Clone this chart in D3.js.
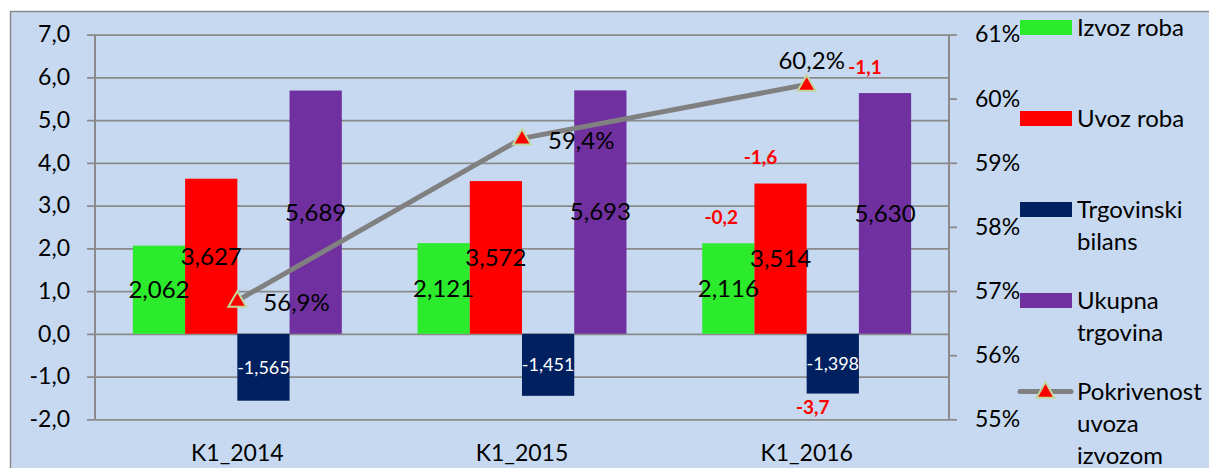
<!DOCTYPE html>
<html><head><meta charset="utf-8">
<script src="https://cdn.jsdelivr.net/npm/d3@7"></script>
<style>html,body{margin:0;padding:0;background:#fff;overflow:hidden}</style>
</head><body><svg id="c" width="1209" height="468"></svg>
<script>
// ---- data ----
const categories = ["K1_2014", "K1_2015", "K1_2016"];
const izvozRoba = [2.062, 2.121, 2.116];
const uvozRoba = [3.627, 3.572, 3.514];
const trgovinskiBilans = [-1.565, -1.451, -1.398];
const ukupnaTrgovina = [5.689, 5.693, 5.630];
const pokrivenost = [0.56851, 0.5938, 0.6022];
const promjene2016 = [-0.2, -1.6, -3.7, -1.1];
const leftTicks = [-2, -1, 0, 1, 2, 3, 4, 5, 6, 7];
const rightTicks = [0.55, 0.56, 0.57, 0.58, 0.59, 0.60, 0.61];
const seriesNames = ["Izvoz roba", "Uvoz roba", "Trgovinski bilans", "Ukupna trgovina"];
const lineName = "Pokrivenost uvoza izvozom";

// ---- styles ----
const colors = ["#2ceb2c", "#ff0000", "#002060", "#7030a0"];
const FONT = "Lato, 'Open Sans', sans-serif";
const gridColor = "#8a8a8a";
const FS = 24, AXFS = 23;

const loc = d3.formatLocale({decimal: ",", thousands: ".", grouping: [3], currency: ["", ""], minus: "-"});
const f1 = loc.format(".1f"), f3 = loc.format(".3f"), fp0 = loc.format(".0%"), fp1 = loc.format(".1%");

const svg = d3.select("#c");
svg.append("rect").attr("x", 10.5).attr("y", 11.5).attr("width", 1300).attr("height", 600)
  .attr("fill", "#c6d9f1").attr("stroke", "#8c8c8c").attr("stroke-width", 1.5);

const L = 95, R = 949, T = 34.5, B = 419.3;
const x0 = d3.scaleBand().domain(categories).range([L, R]).paddingInner(0.266).paddingOuter(0.133);
const x1 = d3.scaleBand().domain(d3.range(4)).range([0, x0.bandwidth()]);
const yL = d3.scaleLinear().domain([-2, 7]).range([B, T]);
const yR = d3.scaleLinear().domain([0.55, 0.61]).range([B, T]);

// gridlines + left axis
const gL = svg.append("g").attr("transform", `translate(${L},0)`)
  .call(d3.axisLeft(yL).tickValues(leftTicks).tickFormat(f1).tickSizeInner(-(R - L)).tickSizeOuter(0).tickPadding(25));
gL.select(".domain").remove();
gL.selectAll(".tick line").attr("x1", -8).attr("stroke", gridColor).attr("stroke-width", 1.75);
gL.selectAll(".tick text").attr("font-family", FONT).attr("font-size", AXFS).attr("fill", "#000");

svg.append("line").attr("x1", L).attr("x2", L).attr("y1", T).attr("y2", B).attr("stroke", gridColor).attr("stroke-width", 2);
svg.append("line").attr("x1", R).attr("x2", R).attr("y1", T).attr("y2", B).attr("stroke", gridColor).attr("stroke-width", 2);

// right axis
const gR = svg.append("g").attr("transform", `translate(${R},0)`)
  .call(d3.axisRight(yR).tickValues(rightTicks).tickFormat(fp0).tickSizeInner(8).tickSizeOuter(0).tickPadding(18));
gR.select(".domain").remove();
gR.selectAll(".tick line").attr("stroke", gridColor).attr("stroke-width", 1.75);
gR.selectAll(".tick text").attr("font-family", FONT).attr("font-size", AXFS).attr("fill", "#000");

// category labels
svg.append("g").selectAll("text").data(categories).join("text")
  .attr("x", d => x0(d) + x0.bandwidth() / 2).attr("y", 461)
  .attr("text-anchor", "middle").attr("font-family", FONT).attr("font-size", AXFS).text(d => d);

// bars
const seriesVals = [izvozRoba, uvozRoba, trgovinskiBilans, ukupnaTrgovina];
const barData = [];
categories.forEach((c, ci) => seriesVals.forEach((s, si) => barData.push({c, ci, si, v: s[ci]})));
const bx = d => x0(d.c) + x1(d.si);
svg.append("g").selectAll("rect").data(barData).join("rect")
  .attr("x", bx).attr("width", x1.bandwidth())
  .attr("y", d => yL(Math.max(0, d.v))).attr("height", d => Math.abs(yL(d.v) - yL(0)))
  .attr("fill", d => colors[d.si]);

// bar labels
svg.append("g").selectAll("text").data(barData).join("text")
  .attr("x", d => bx(d) + x1.bandwidth() / 2)
  .attr("y", d => (yL(d.v) + yL(0)) / 2).attr("dy", "0.35em")
  .attr("text-anchor", "middle").attr("font-family", FONT)
  .attr("font-size", d => d.si === 2 ? 18 : FS)
  .attr("fill", d => d.si === 2 ? "#fff" : "#000")
  .text(d => f3(d.v));

// red change annotations for 2016
const last = categories[categories.length - 1];
const annDx = [-7, -20, -20, -20];
svg.append("g").selectAll("text").data(promjene2016).join("text")
  .attr("x", (d, i) => x0(last) + x1(i) + x1.bandwidth() / 2 + annDx[i])
  .attr("y", (d, i) => { const v = seriesVals[i][categories.length - 1]; return v < 0 ? yL(v) + 14 : yL(v) - 26; })
  .attr("dy", "0.35em").attr("text-anchor", "middle")
  .attr("font-family", FONT).attr("font-size", 19).attr("font-weight", "bold").attr("fill", "#ff0000")
  .text(d => f1(d));

// line
const cx = c => x0(c) + x0.bandwidth() / 2;
const lineData = categories.map((c, i) => ({c, v: pokrivenost[i]}));
svg.append("path").datum(lineData)
  .attr("d", d3.line().x(d => cx(d.c)).y(d => yR(d.v)))
  .attr("fill", "none").attr("stroke", "#808080").attr("stroke-width", 5)
  .attr("stroke-linejoin", "round").attr("stroke-linecap", "round");
const tri = d3.symbol().type(d3.symbolTriangle).size(140);
svg.append("g").selectAll("path").data(lineData).join("path")
  .attr("d", tri).attr("transform", d => `translate(${cx(d.c)},${yR(d.v) + 1})`)
  .attr("fill", "#ff0000").attr("stroke", "#c3d69b").attr("stroke-width", 2);
svg.append("g").selectAll("text").data(lineData).join("text")
  .attr("x", (d, i) => i < 2 ? cx(d.c) + 26 : cx(d.c) + 5)
  .attr("y", (d, i) => i < 2 ? yR(d.v) + 2 : yR(d.v) - 24)
  .attr("dy", "0.35em").attr("text-anchor", (d, i) => i < 2 ? "start" : "middle")
  .attr("font-family", FONT).attr("font-size", FS).text(d => fp1(d.v));

// legend
const legendItems = seriesNames.map((n, i) => ({name: n, type: "bar", color: colors[i]}))
  .concat([{name: lineName, type: "line"}]);
const lg = svg.append("g");
legendItems.forEach((it, i) => {
  const cy = 27.5 + 91 * i;
  if (it.type === "bar") {
    lg.append("rect").attr("x", 1020).attr("y", cy - 7.5).attr("width", 52).attr("height", 15).attr("fill", it.color);
  } else {
    lg.append("line").attr("x1", 1020).attr("x2", 1071).attr("y1", cy).attr("y2", cy)
      .attr("stroke", "#808080").attr("stroke-width", 5).attr("stroke-linecap", "round");
    lg.append("path").attr("d", tri).attr("transform", `translate(1045.5,${cy + 1})`)
      .attr("fill", "#ff0000").attr("stroke", "#c3d69b").attr("stroke-width", 2);
  }
  const t = lg.append("text").attr("x", 1077).attr("y", cy + 8).attr("font-family", FONT).attr("font-size", FS);
  const words = it.name.split(" ");
  let lines = [], cur = "";
  const probe = svg.append("text").attr("font-family", FONT).attr("font-size", FS);
  words.forEach(w => {
    const test = cur ? cur + " " + w : w;
    probe.text(test);
    if (probe.node().getComputedTextLength() > 135 && cur) { lines.push(cur); cur = w; } else cur = test;
  });
  lines.push(cur);
  probe.remove();
  lines.forEach((ln, k) => t.append("tspan").attr("x", 1077).attr("dy", k === 0 ? 0 : 32).text(ln));
});
</script></body></html>
